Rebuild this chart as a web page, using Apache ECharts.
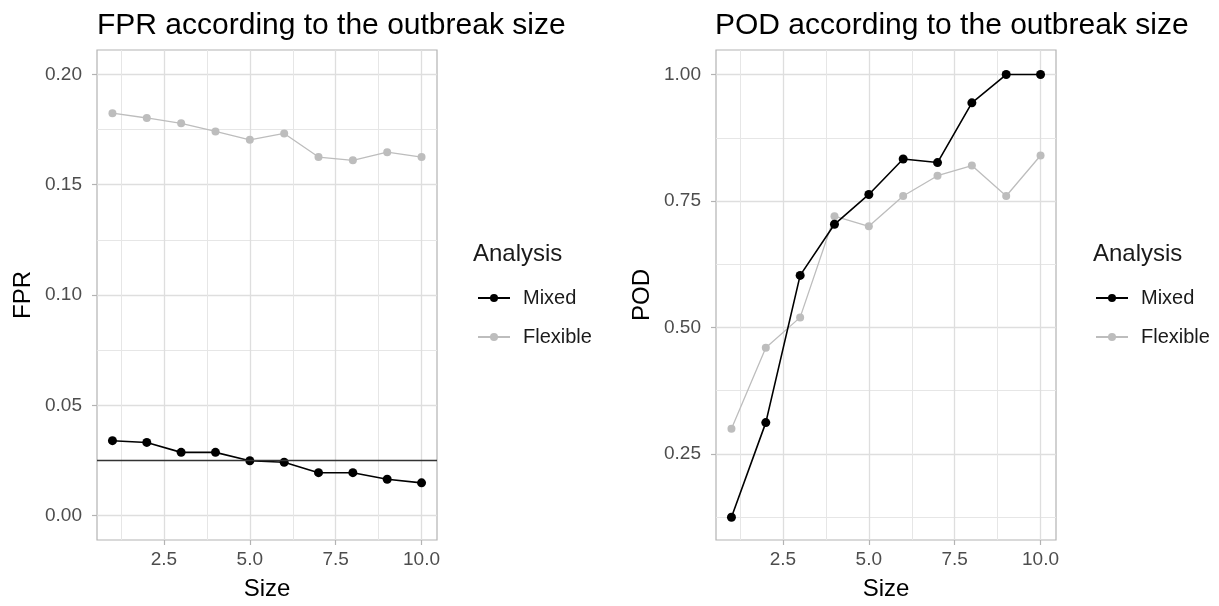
<!DOCTYPE html>
<html>
<head>
<meta charset="utf-8">
<script src="https://cdn.jsdelivr.net/npm/echarts@6/dist/echarts.min.js"></script>
<style>
html,body{margin:0;padding:0;background:#fff;}
#chart{width:1219px;height:606px;}
</style>
</head>
<body>
<div id="chart"></div>
<script>
// ---- data ----
const sizes = [1, 2, 3, 4, 5, 6, 7, 8, 9, 10];
const fprMixed = [0.034, 0.0332, 0.0287, 0.0287, 0.0249, 0.0242, 0.0195, 0.0195, 0.0165, 0.0149];
const fprFlexible = [0.1824, 0.1802, 0.1778, 0.1741, 0.1703, 0.1732, 0.1625, 0.161, 0.1647, 0.1625];
const podMixed = [0.125, 0.312, 0.603, 0.704, 0.763, 0.833, 0.826, 0.944, 1.0, 1.0];
const podFlexible = [0.30, 0.46, 0.52, 0.72, 0.70, 0.76, 0.80, 0.82, 0.76, 0.84];
const fprThreshold = 0.025;
const seriesNames = ['Mixed', 'Flexible'];
const xTicks = [2.5, 5, 7.5, 10];
const xMinorTicks = [1.25, 3.75, 6.25, 8.75];
const fprTicks = [0, 0.05, 0.10, 0.15, 0.20];
const fprMinorTicks = [0.025, 0.075, 0.125, 0.175];
const podTicks = [0.25, 0.50, 0.75, 1.00];
const podMinorTicks = [0.125, 0.375, 0.625, 0.875];
const xRange = [0.55, 10.45];
const fprRange = [-0.011, 0.211];
const podRange = [0.08, 1.0485];

// ---- styling ----
const FONT = 'Liberation Sans, Arial, Helvetica, sans-serif';
const gridColMajor = '#dedede';
const gridColMinor = '#e6e6e6';
const tickCol = '#b3b3b3';
const labelCol = '#4d4d4d';
const mixedCol = '#000000';
const flexCol = '#bdbdbd';

const pair = (xs, ys) => xs.map((x, i) => [x, ys[i]]);

function mainX(gridIndex, name) {
  return {
    type: 'value', gridIndex, min: xRange[0], max: xRange[1],
    name, nameLocation: 'middle', nameGap: 37,
    nameTextStyle: {fontFamily: FONT, fontSize: 24, color: '#000'},
    axisLine: {show: false, onZero: false},
    axisTick: {show: true, inside: false, length: 5, lineStyle: {color: tickCol, width: 1.2}, customValues: xTicks},
    axisLabel: {show: true, customValues: xTicks, margin: 10, fontFamily: FONT, fontSize: 19, color: labelCol,
      formatter: v => Number(v).toFixed(1)},
    splitLine: {show: true, lineStyle: {color: gridColMajor, width: 1.3}}
  };
}
function minorX(gridIndex) {
  return {
    type: 'value', gridIndex, min: xRange[0], max: xRange[1],
    axisLine: {show: false, onZero: false},
    axisTick: {show: false, customValues: xMinorTicks},
    axisLabel: {show: false, customValues: xMinorTicks},
    splitLine: {show: true, lineStyle: {color: gridColMinor, width: 1}}
  };
}
function mainY(gridIndex, name, range, ticks) {
  return {
    type: 'value', gridIndex, min: range[0], max: range[1],
    name, nameLocation: 'middle', nameGap: 62,
    nameTextStyle: {fontFamily: FONT, fontSize: 24, color: '#000'},
    axisLine: {show: false, onZero: false},
    axisTick: {show: true, inside: false, length: 5, lineStyle: {color: tickCol, width: 1.2}, customValues: ticks},
    axisLabel: {show: true, customValues: ticks, margin: 15, fontFamily: FONT, fontSize: 19, color: labelCol,
      formatter: v => Number(v).toFixed(2)},
    splitLine: {show: true, lineStyle: {color: gridColMajor, width: 1.3}}
  };
}
function minorY(gridIndex, range, ticks) {
  return {
    type: 'value', gridIndex, min: range[0], max: range[1],
    axisLine: {show: false, onZero: false},
    axisTick: {show: false, customValues: ticks},
    axisLabel: {show: false, customValues: ticks},
    splitLine: {show: true, lineStyle: {color: gridColMinor, width: 1}}
  };
}

function lineSeries(name, xAxisIndex, yAxisIndex, data, color, width, size, z) {
  return {
    name, type: 'line', xAxisIndex, yAxisIndex, data,
    symbol: 'circle', symbolSize: size, showSymbol: true,
    lineStyle: {color, width}, itemStyle: {color, borderWidth: 0},
    emphasis: {disabled: true}, animation: false, z
  };
}

function legendFor(left) {
  return {
    data: seriesNames, orient: 'vertical', left, top: 288, padding: 0,
    itemWidth: 32, itemHeight: 10, itemGap: 19,
    textStyle: {fontFamily: FONT, fontSize: 20, color: '#1a1a1a', padding: [0, 0, 0, 8]},
    selectedMode: false
  };
}

const chart = echarts.init(document.getElementById('chart'), null, {renderer: 'canvas'});

const thresholdSeries = {
  name: 'threshold', type: 'line', xAxisIndex: 0, yAxisIndex: 0,
  data: [[xRange[0], fprThreshold], [xRange[1], fprThreshold]],
  symbol: 'none', lineStyle: {color: '#333333', width: 1.6},
  emphasis: {disabled: true}, silent: true, animation: false, z: 5
};

const option = {
  backgroundColor: '#ffffff',
  animation: false,
  title: [
    {text: 'FPR according to the outbreak size', left: 92, top: 6,
      textStyle: {fontFamily: FONT, fontSize: 30, fontWeight: 'normal', color: '#000'}},
    {text: 'POD according to the outbreak size', left: 710, top: 6,
      textStyle: {fontFamily: FONT, fontSize: 30, fontWeight: 'normal', color: '#000'}},
    {text: 'Analysis', left: 468, top: 237,
      textStyle: {fontFamily: FONT, fontSize: 24, fontWeight: 'normal', color: '#1a1a1a'}},
    {text: 'Analysis', left: 1088, top: 237,
      textStyle: {fontFamily: FONT, fontSize: 24, fontWeight: 'normal', color: '#1a1a1a'}}
  ],
  legend: [
    Object.assign(legendFor(477), {id: 'l1'}),
    Object.assign(legendFor(1095), {id: 'l2'})
  ],
  grid: [
    {left: 97, top: 50, width: 340, height: 493, show: true, borderColor: '#b3b3b3', borderWidth: 1.2, backgroundColor: 'transparent', containLabel: false},
    {left: 716, top: 50, width: 340, height: 493, show: true, borderColor: '#b3b3b3', borderWidth: 1.2, backgroundColor: 'transparent', containLabel: false}
  ],
  xAxis: [mainX(0, 'Size'), minorX(0), mainX(1, 'Size'), minorX(1)],
  yAxis: [
    mainY(0, 'FPR', fprRange, fprTicks), minorY(0, fprRange, fprMinorTicks),
    mainY(1, 'POD', podRange, podTicks), minorY(1, podRange, podMinorTicks)
  ],
  series: [
    lineSeries('Mixed', 0, 0, pair(sizes, fprMixed), mixedCol, 1.6, 9, 4),
    lineSeries('Flexible', 0, 0, pair(sizes, fprFlexible), flexCol, 1.3, 8, 3),
    thresholdSeries,
    lineSeries('Mixed', 2, 2, pair(sizes, podMixed), mixedCol, 1.6, 9, 4),
    lineSeries('Flexible', 2, 2, pair(sizes, podFlexible), flexCol, 1.3, 8, 3)
  ]
};
chart.setOption(option);
</script>
</body>
</html>
